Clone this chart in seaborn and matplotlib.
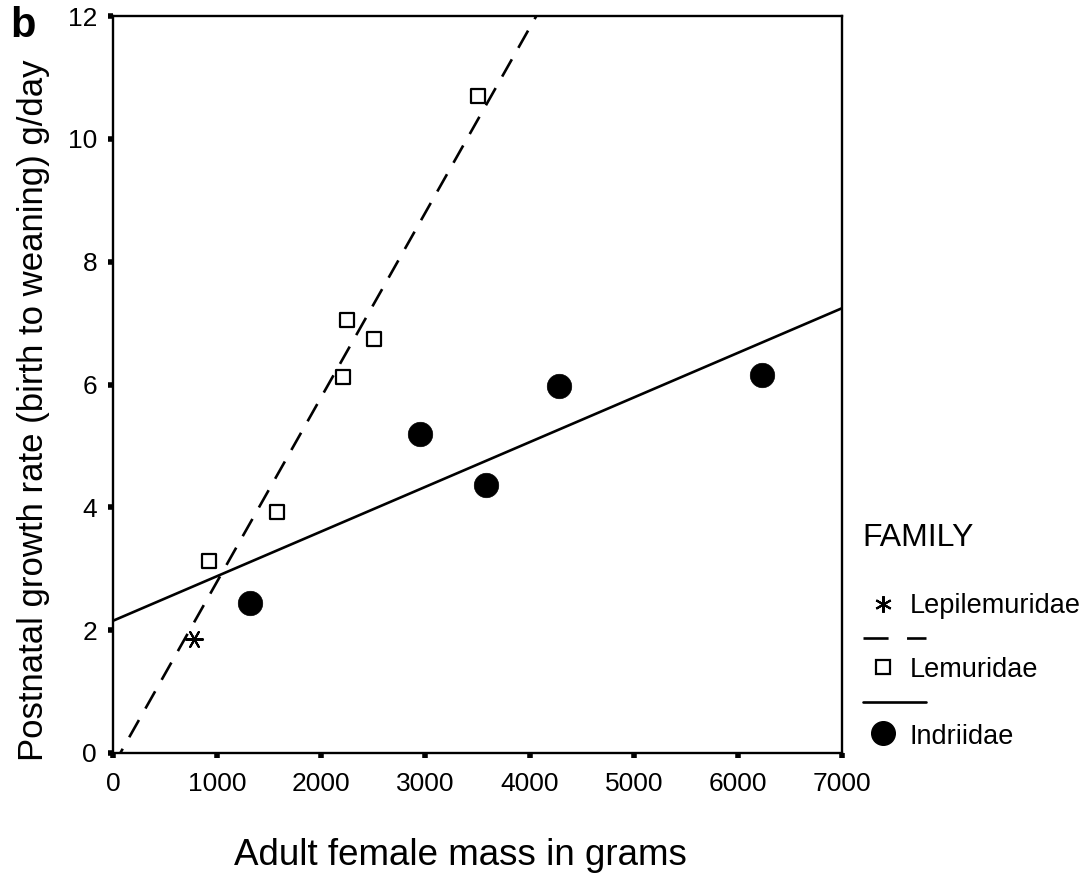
import matplotlib
matplotlib.use("Agg")
import matplotlib.pyplot as plt
from matplotlib.lines import Line2D
import numpy as np
import pandas as pd
import seaborn as sns

# ---------------- data ----------------
lepi_mass = [775]
lepi_rate = [1.85]

lemur_mass = [920, 1575, 2205, 2250, 2505, 3500]
lemur_rate = [3.12, 3.92, 6.13, 7.05, 6.74, 10.69]

indri_mass = [1315, 2950, 3585, 4285, 6235]
indri_rate = [2.45, 5.19, 4.36, 5.97, 6.15]

family_names = ["Lepilemuridae", "Lemuridae", "Indriidae"]
x_ticks = [0, 1000, 2000, 3000, 4000, 5000, 6000, 7000]
y_ticks = [0, 2, 4, 6, 8, 10, 12]

x_label = "Adult female mass in grams"
y_label = "Postnatal growth rate (birth to weaning) g/day"
panel_label = "b"
legend_title = "FAMILY"

lepi_df = pd.DataFrame({"mass": lepi_mass, "rate": lepi_rate})
lemur_df = pd.DataFrame({"mass": lemur_mass, "rate": lemur_rate})
indri_df = pd.DataFrame({"mass": indri_mass, "rate": indri_rate})

# ---------------- style ----------------
sns.set_style("ticks")
plt.rcParams["font.family"] = ["Liberation Sans", "DejaVu Sans"]
plt.rcParams["text.color"] = "black"
plt.rcParams["axes.labelcolor"] = "black"
plt.rcParams["xtick.color"] = "black"
plt.rcParams["ytick.color"] = "black"
plt.rcParams["axes.edgecolor"] = "black"

W, H = 1090, 883
fig = plt.figure(figsize=(W / 100, H / 100), dpi=100)
ax = fig.add_axes([113 / W, 1 - 753 / H, (842 - 113) / W, (753 - 16) / H])

ax.set_xlim(x_ticks[0], x_ticks[-1])
ax.set_ylim(y_ticks[0], y_ticks[-1])

LW = 1.9
ASTER = (6, 2, 90)

# regression lines (fit computed by seaborn from the data)
sns.regplot(data=lemur_df, x="mass", y="rate", scatter=False, ci=None,
            truncate=False, ax=ax,
            line_kws=dict(color="black", lw=LW, linestyle=(0, (7.5, 5.0)),
                          solid_capstyle="butt", dash_capstyle="butt"))
sns.regplot(data=indri_df, x="mass", y="rate", scatter=False, ci=None,
            truncate=False, ax=ax,
            line_kws=dict(color="black", lw=LW))

# points
sns.scatterplot(data=lepi_df, x="mass", y="rate", marker=ASTER, s=150,
                color="black", linewidth=1.5, ax=ax, legend=False, zorder=3)
sns.scatterplot(data=lemur_df, x="mass", y="rate", marker="s", s=115,
                facecolor="white", edgecolor="black", linewidth=1.6,
                ax=ax, legend=False, zorder=3)
sns.scatterplot(data=indri_df, x="mass", y="rate", marker="o", s=310,
                color="black", edgecolor="black", linewidth=0.5,
                ax=ax, legend=False, zorder=3)

ax.set_xlim(x_ticks[0], x_ticks[-1])
ax.set_ylim(y_ticks[0], y_ticks[-1])
ax.set_xticks(x_ticks)
ax.set_yticks(y_ticks)
ax.set_xticklabels([str(t) for t in x_ticks])
ax.set_yticklabels([str(t) for t in y_ticks])

for sp in ax.spines.values():
    sp.set_linewidth(1.7)
    sp.set_color("black")
    sp.set_visible(True)

ax.tick_params(axis="both", direction="out", length=3.5, width=4,
               color="black", labelsize=19, labelcolor="black")
ax.tick_params(axis="x", pad=10)
ax.tick_params(axis="y", pad=8)

ax.set_xlabel(x_label, fontsize=26.5, color="black")
ax.set_ylabel(y_label, fontsize=25, color="black")
ax.xaxis.set_label_coords((460 - 113) / 729, (753 - 838) / 737)
ax.yaxis.set_label_coords((50 - 113) / 729, (753 - 410) / 737)

fig.text(10 / W, 1 - 26 / H, panel_label, fontsize=30, fontweight="bold",
         va="center", ha="left", color="black")

# ---------------- legend (drawn manually to match layout) ----------------
def fx(px):
    return px / W


def fy(py):
    return 1 - py / H


fig.text(fx(862), fy(538), legend_title, fontsize=23, va="center", ha="left",
         color="black")

fig.add_artist(Line2D([fx(883)], [fy(604)], marker=(6, 2, 0), markersize=12,
                      color="black", markeredgewidth=1.5, linestyle="none"))
fig.text(fx(910), fy(606), family_names[0], fontsize=19.5, va="center",
         ha="left", color="black")

fig.add_artist(Line2D([fx(863), fx(926)], [fy(638), fy(638)], color="black",
                      lw=LW, linestyle=(0, (9.5, 7.0))))

fig.add_artist(Line2D([fx(883)], [fy(667)], marker="s", markersize=10.5,
                      markerfacecolor="white", markeredgecolor="black",
                      markeredgewidth=1.6, linestyle="none"))
fig.text(fx(910), fy(670), family_names[1], fontsize=19.5, va="center",
         ha="left", color="black")

fig.add_artist(Line2D([fx(863), fx(926)], [fy(702), fy(702)], color="black",
                      lw=LW))

fig.add_artist(Line2D([fx(883)], [fy(733)], marker="o", markersize=17,
                      color="black", linestyle="none"))
fig.text(fx(910), fy(737), family_names[2], fontsize=19.5, va="center",
         ha="left", color="black")

fig.savefig("out.png", dpi=100, facecolor="white")
